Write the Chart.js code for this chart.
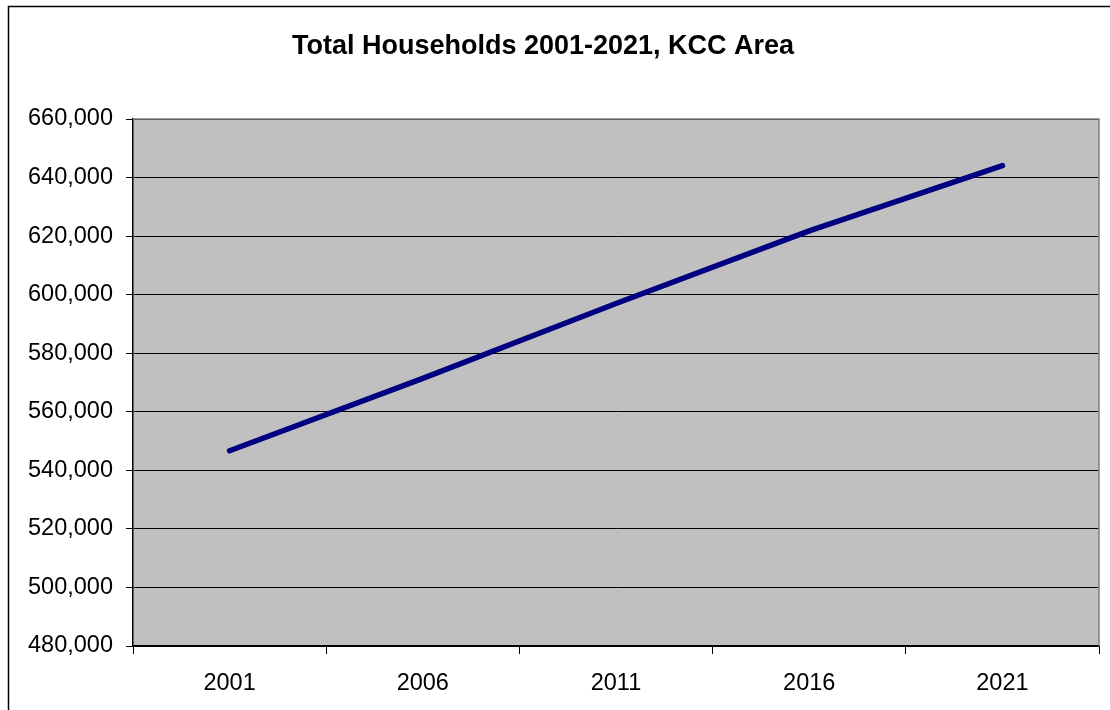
<!DOCTYPE html>
<html>
<head>
<meta charset="utf-8">
<script src="https://cdn.jsdelivr.net/npm/chart.js@4.4.0/dist/chart.umd.min.js"></script>
<style>
  html,body{margin:0;padding:0;background:#fff;}
  #wrap{width:1110px;height:710px;position:relative;}
</style>
</head>
<body>
<div id="wrap"><canvas id="c" width="1110" height="710"></canvas></div>
<script>
const years = ['2001','2006','2011','2016','2021'];
const households = [546700, 571400, 597000, 621800, 644100];
const yMin = 480000, yMax = 660000, yStep = 20000;
const chartTitle = 'Total Households 2001-2021, KCC Area';

const FONT = 'Arial, "Liberation Sans", sans-serif';

// grey plot area + outer chart border + title
const excelLook = {
  id: 'excelLook',
  beforeDraw(c){
    const {ctx, chartArea:a} = c;
    ctx.save();
    ctx.fillStyle = '#C0C0C0';
    ctx.fillRect(a.left, a.top, a.right - a.left, a.bottom - a.top);
    // outer frame (runs off the right/bottom edge)
    ctx.strokeStyle = '#000'; ctx.lineWidth = 1.5;
    ctx.beginPath(); ctx.moveTo(8.5, c.height + 5); ctx.lineTo(8.5, 6.5); ctx.lineTo(c.width + 5, 6.5); ctx.stroke();
    // title
    ctx.fillStyle = '#000';
    ctx.font = 'bold 27px ' + FONT;
    ctx.textAlign = 'center'; ctx.textBaseline = 'alphabetic';
    ctx.fillText(chartTitle, 543, 54);
    ctx.restore();
  },
  beforeDatasetsDraw(c){
    const {ctx, chartArea:a} = c;
    ctx.save();
    ctx.strokeStyle = '#808080'; ctx.lineWidth = 1.5;
    ctx.beginPath(); ctx.moveTo(a.left, a.top); ctx.lineTo(a.right, a.top); ctx.lineTo(a.right, a.bottom); ctx.stroke();
    ctx.restore();
  }
};

new Chart(document.getElementById('c'), {
  type: 'line',
  data: {
    labels: years,
    datasets: [{
      data: households,
      borderColor: '#000080',
      borderWidth: 5.5,
      borderCapStyle: 'round',
      borderJoinStyle: 'round',
      pointRadius: 0,
      tension: 0,
      fill: false
    }]
  },
  options: {
    responsive: false,
    animation: false,
    layout: { padding: { left: 0, top: 119, right: 11, bottom: 0 } },
    plugins: { legend: { display: false }, tooltip: { enabled: false } },
    scales: {
      x: {
        offset: true,
        afterFit(s){ s.height = 64; },
        grid: { offset: true, drawOnChartArea: false, drawTicks: true, tickLength: 8, color: '#000', lineWidth: 1 },
        border: { display: true, color: '#000', width: 1.5 },
        ticks: { color: '#000', font: { family: FONT, size: 23.5 }, padding: 15, maxRotation: 0 }
      },
      y: {
        min: yMin, max: yMax,
        afterFit(s){ s.width = 133; },
        ticks: {
          stepSize: yStep,
          color: '#000',
          font: { family: FONT, size: 23.5 },
          padding: 13,
          callback: v => v.toLocaleString('en-US')
        },
        grid: { color: '#000', lineWidth: 1, tickLength: 7 },
        border: { display: true, color: '#000', width: 1.5 }
      }
    }
  },
  plugins: [excelLook]
});
</script>
</body>
</html>
